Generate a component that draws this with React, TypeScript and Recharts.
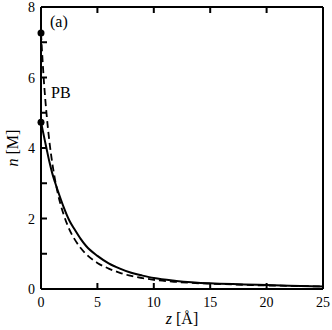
import React from "react";
import { LineChart, Line, XAxis, YAxis } from "recharts";

// z positions (Å)
const zValues = [0, 0.25, 0.5, 0.75, 1, 1.25, 1.5, 2, 2.5, 3, 3.5, 4, 5, 6, 7, 8, 9, 10, 12, 15, 18, 20, 22, 25];
// solid curve n [M]
const nSolid = [4.73, 4.35, 3.97, 3.6, 3.28, 3.02, 2.78, 2.33, 1.95, 1.68, 1.43, 1.22, 0.94, 0.73, 0.58, 0.46, 0.38, 0.31, 0.23, 0.16, 0.13, 0.11, 0.09, 0.07];
// dashed PB curve n [M]
const nPB = [7.26, 5.93, 4.94, 4.17, 3.57, 3.09, 2.7, 2.12, 1.7, 1.4, 1.17, 0.99, 0.74, 0.58, 0.46, 0.37, 0.31, 0.26, 0.2, 0.15, 0.12, 0.1, 0.09, 0.07];

const xTicks = [0, 5, 10, 15, 20, 25];
const yTicks = [0, 1, 2, 3, 4, 5, 6, 7, 8];

const data = zValues.map((z, i) => ({ z, solid: nSolid[i], pb: nPB[i] }));

const FONT = "Liberation Serif, serif";

// negative tickSize -> ticks point into the plot
const TICK = -6;

const BottomLabel = (props: any) => {
  const { x, y, payload } = props;
  return (
    <text x={x} y={y} textAnchor="middle" fontSize={14} fontFamily={FONT} fill="#000">
      {payload.value}
    </text>
  );
};

const LeftLabel = (props: any) => {
  const { x, y, payload } = props;
  if (payload.value % 2 !== 0) return <g />;
  return (
    <text x={x} y={y + 5} textAnchor="end" fontSize={14} fontFamily={FONT} fill="#000">
      {payload.value}
    </text>
  );
};

const NoLabel = () => <g />;

const firstDot = (props: any) => {
  const { cx, cy, index } = props;
  if (index !== 0) return <g key={`d${index}`} />;
  return <circle key={`d${index}`} cx={cx} cy={cy} r={3.5} fill="#000" stroke="none" />;
};

const axisLine = { stroke: "#000", strokeWidth: 2 };
const tickLine = { stroke: "#000", strokeWidth: 2 };

export default function App() {
  return (
    <div style={{ position: "absolute", left: 0, top: 0, width: 332, height: 330, background: "#fff" }}>
      <LineChart width={332} height={330} data={data} margin={{ top: 6, right: 8, bottom: 40, left: 40 }}>
        <XAxis
          dataKey="z"
          type="number"
          domain={[0, 25]}
          ticks={xTicks}
          height={1}
          tickSize={TICK}
          tickMargin={24}
          tickLine={tickLine}
          axisLine={axisLine}
          tick={<BottomLabel />}
          interval={0}
        />
        <XAxis
          xAxisId="top"
          orientation="top"
          dataKey="z"
          type="number"
          domain={[0, 25]}
          ticks={xTicks}
          height={1}
          tickSize={TICK}
          tickMargin={0}
          tickLine={tickLine}
          axisLine={axisLine}
          tick={<NoLabel />}
          interval={0}
        />
        <YAxis
          type="number"
          domain={[0, 8]}
          ticks={yTicks}
          width={1}
          tickSize={TICK}
          tickMargin={12}
          tickLine={tickLine}
          axisLine={axisLine}
          tick={<LeftLabel />}
          interval={0}
        />
        <YAxis
          yAxisId="right"
          orientation="right"
          type="number"
          domain={[0, 8]}
          ticks={yTicks}
          width={1}
          tickSize={TICK}
          tickMargin={0}
          tickLine={tickLine}
          axisLine={axisLine}
          tick={<NoLabel />}
          interval={0}
        />
        <Line
          dataKey="pb"
          type="monotone"
          stroke="#000"
          strokeWidth={1.8}
          strokeDasharray="7 4"
          dot={firstDot}
          activeDot={false}
          isAnimationActive={false}
        />
        <Line
          dataKey="solid"
          type="monotone"
          stroke="#000"
          strokeWidth={2}
          dot={firstDot}
          activeDot={false}
          isAnimationActive={false}
        />
      </LineChart>
      <svg
        width={332}
        height={330}
        style={{ position: "absolute", left: 0, top: 0, pointerEvents: "none" }}
        fontFamily={FONT}
      >
        <text x={50} y={27} fontSize={16} fill="#000">(a)</text>
        <text x={51} y={98} fontSize={16} fill="#000">PB</text>
        <text x={182} y={324} fontSize={16} textAnchor="middle" fill="#000">
          <tspan fontStyle="italic">z</tspan> [Å]
        </text>
        <text x={18} y={148} fontSize={16} textAnchor="middle" fill="#000" transform="rotate(-90 18 148)">
          <tspan fontStyle="italic">n</tspan> [M]
        </text>
      </svg>
    </div>
  );
}
